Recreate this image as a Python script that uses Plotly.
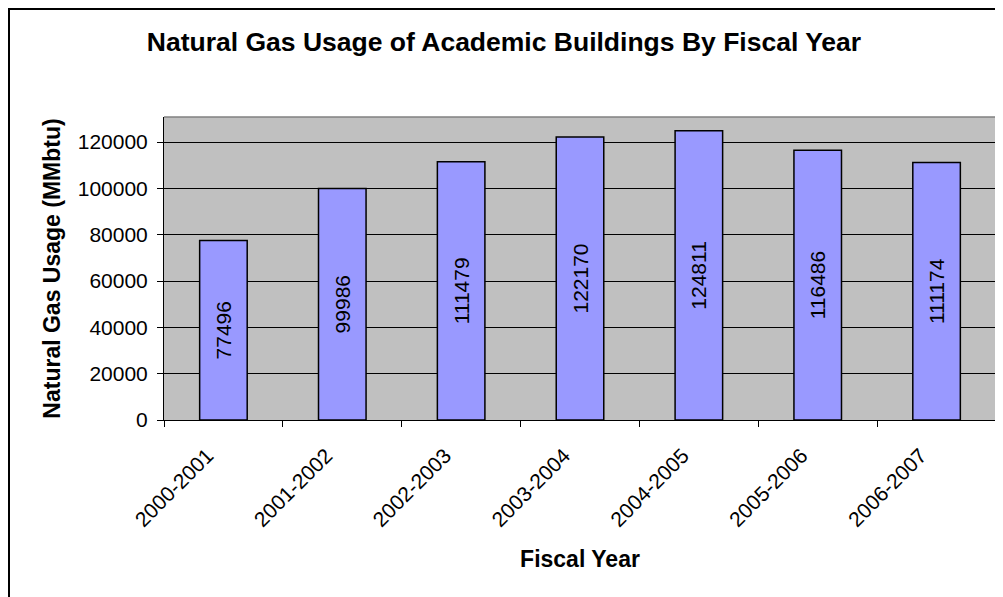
import plotly.graph_objects as go

years = ["2000-2001", "2001-2002", "2002-2003", "2003-2004", "2004-2005", "2005-2006", "2006-2007"]
usage = [77496, 99986, 111479, 122170, 124811, 116486, 111174]
y_ticks = [0, 20000, 40000, 60000, 80000, 100000, 120000]

FONT = "Liberation Sans, Arial, sans-serif"

fig = go.Figure()
fig.add_trace(go.Bar(
    x=years, y=usage,
    marker=dict(color="#9999FF", line=dict(color="black", width=1.5)),
    width=0.4,
    text=[str(v) for v in usage],
    textposition="inside",
    insidetextanchor="middle",
    textangle=-90,
    textfont=dict(family=FONT, size=21, color="black"),
    cliponaxis=False,
    hoverinfo="x+y",
))

fig.update_layout(
    width=1003, height=597,
    margin=dict(l=156, r=15, t=109, b=185, autoexpand=False),
    paper_bgcolor="white",
    plot_bgcolor="#C0C0C0",
    showlegend=False,
    uniformtext=dict(minsize=21, mode="show"),
    title=dict(
        text="<b>Natural Gas Usage of Academic Buildings By Fiscal Year</b>",
        x=(504 - 8) / 1003, xanchor="center", xref="container",
        y=1 - 34 / 597, yanchor="middle", yref="container",
        font=dict(family=FONT, size=26.5, color="black"),
    ),
    font=dict(family=FONT, color="black"),
    xaxis=dict(
        type="category",
        automargin=False,
        tickangle=-45,
        tickfont=dict(family=FONT, size=21, color="black"),
        ticks="outside", tickson="boundaries", ticklen=6, tickcolor="black",
        ticklabelstandoff=14, ticklabelshift=-16,
        showline=True, linecolor="black", linewidth=1,
        showgrid=False,
        title=dict(text="<b>Fiscal Year</b>", font=dict(family=FONT, size=23, color="black"), standoff=20),
    ),
    yaxis=dict(
        automargin=False,
        range=[0, 130800],
        tickvals=y_ticks,
        ticktext=[str(v) for v in y_ticks],
        tickfont=dict(family=FONT, size=21, color="black"),
        ticks="outside", ticklen=6, tickcolor="black",
        ticklabelstandoff=5,
        showline=True, linecolor="black", linewidth=1,
        showgrid=True, gridcolor="black", gridwidth=1,
        zeroline=False,
        title=dict(text="<b>Natural Gas Usage (MMbtu)</b>", font=dict(family=FONT, size=23, color="black"), standoff=10),
    ),
    shapes=[
        dict(type="line", xref="paper", yref="paper", x0=0, x1=1, y0=1, y1=1,
             line=dict(color="#808080", width=1.5), layer="above"),
        dict(type="line", xref="paper", yref="paper", x0=1, x1=1, y0=0, y1=1,
             line=dict(color="#808080", width=1.5), layer="above"),
        dict(type="rect", xref="paper", yref="paper", x0=-0.1863, x1=1.2, y0=-0.8, y1=1.3564,
             line=dict(color="black", width=2), fillcolor="rgba(0,0,0,0)", layer="above"),
    ],
)

fig.write_html("out.html")
